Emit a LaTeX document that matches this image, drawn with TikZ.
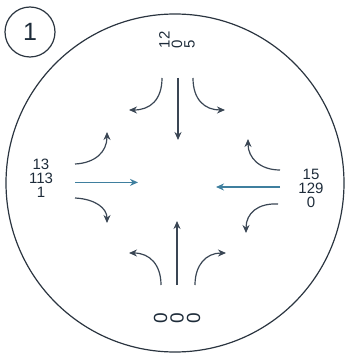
\documentclass[tikz,border=0pt]{standalone}
\usepackage{fontspec}
\setmainfont{Liberation Sans}
\usetikzlibrary{arrows.meta}
\definecolor{ink}{HTML}{2B3540}
\definecolor{flow}{HTML}{3A4654}
\definecolor{thru}{HTML}{3F7F9E}
\definecolor{lbl}{HTML}{1E2C3A}
\begin{document}
\begin{tikzpicture}[x=1pt,y=-1pt,
  turn/.style={draw=flow, line width=1.2pt, -{Stealth[length=8pt,width=7pt]}},
  straightarr/.style={draw=flow, line width=1.2pt, -{Stealth[length=8pt,width=7pt]}},
  sidearr/.style={draw=thru, line width=1.3pt, -{Stealth[length=8pt,width=7pt]}},
  count/.style={font=\fontsize{15}{14}\selectfont, text=lbl, inner sep=0pt, align=center},
  ring/.style={draw=ink, line width=1.2pt}]
\useasboundingbox (0,0) rectangle (347,358);
% main circle
\node[ring, circle, minimum size=338pt, inner sep=0pt] (plaza) at (175,183) {};
% number badge
\node[ring, circle, minimum size=50pt, inner sep=0pt, font=\fontsize{25}{25}\selectfont, text=lbl] (badge) at (30,32) {1};
% labels
\node[count, rotate=90, align=left, font=\fontsize{15}{12.5}\selectfont] (ntxt) at (177,40) {12\\0\\5};
\node[count] (wtxt) at (41,178) {13\\113\\1};
\node[count] (etxt) at (311,188) {15\\129\\0};
\node[count, rotate=90, font=\fontsize{19}{16.5}\selectfont] (stxt) at (177,318) {0\\0\\0};
% north approach
\coordinate (nS) at (178,78); \coordinate (nSe) at (178,140);
\coordinate (nL) at (162,78); \coordinate (nLe) at (129,110);
\coordinate (nR) at (193,78); \coordinate (nRe) at (225,110);
\draw[straightarr] (nS) -- (nSe);
\draw[turn] (nL) .. controls (162,100) and (150,110) .. (nLe);
\draw[turn] (nR) .. controls (193,100) and (205,110) .. (nRe);
% west approach
\coordinate (wS) at (75,182.4); \coordinate (wSe) at (138,182.4);
\coordinate (wL) at (75,164); \coordinate (wLe) at (107,132);
\coordinate (wR) at (75,198); \coordinate (wRe) at (107,223);
\draw[sidearr] (wS) -- (wSe);
\draw[turn] (wL) .. controls (95,163) and (107,152) .. (wLe);
\draw[turn] (wR) .. controls (95,199) and (107,208) .. (wRe);
% east approach
\coordinate (eS) at (280,187); \coordinate (eSe) at (216,187);
\coordinate (eL) at (280,170); \coordinate (eLe) at (248,139);
\coordinate (eR) at (278,204); \coordinate (eRe) at (246,233);
\draw[sidearr] (eS) -- (eSe);
\draw[turn] (eL) .. controls (260,170) and (248,158) .. (eLe);
\draw[turn] (eR) .. controls (258,203) and (246,213) .. (eRe);
% south approach
\coordinate (sS) at (177,285); \coordinate (sSe) at (177,221);
\coordinate (sL) at (161,285); \coordinate (sLe) at (129,253);
\coordinate (sR) at (195,285); \coordinate (sRe) at (226,253);
\draw[straightarr] (sS) -- (sSe);
\draw[turn] (sL) .. controls (161,265) and (150,253) .. (sLe);
\draw[turn] (sR) .. controls (195,265) and (206,253) .. (sRe);
\end{tikzpicture}
\end{document}
